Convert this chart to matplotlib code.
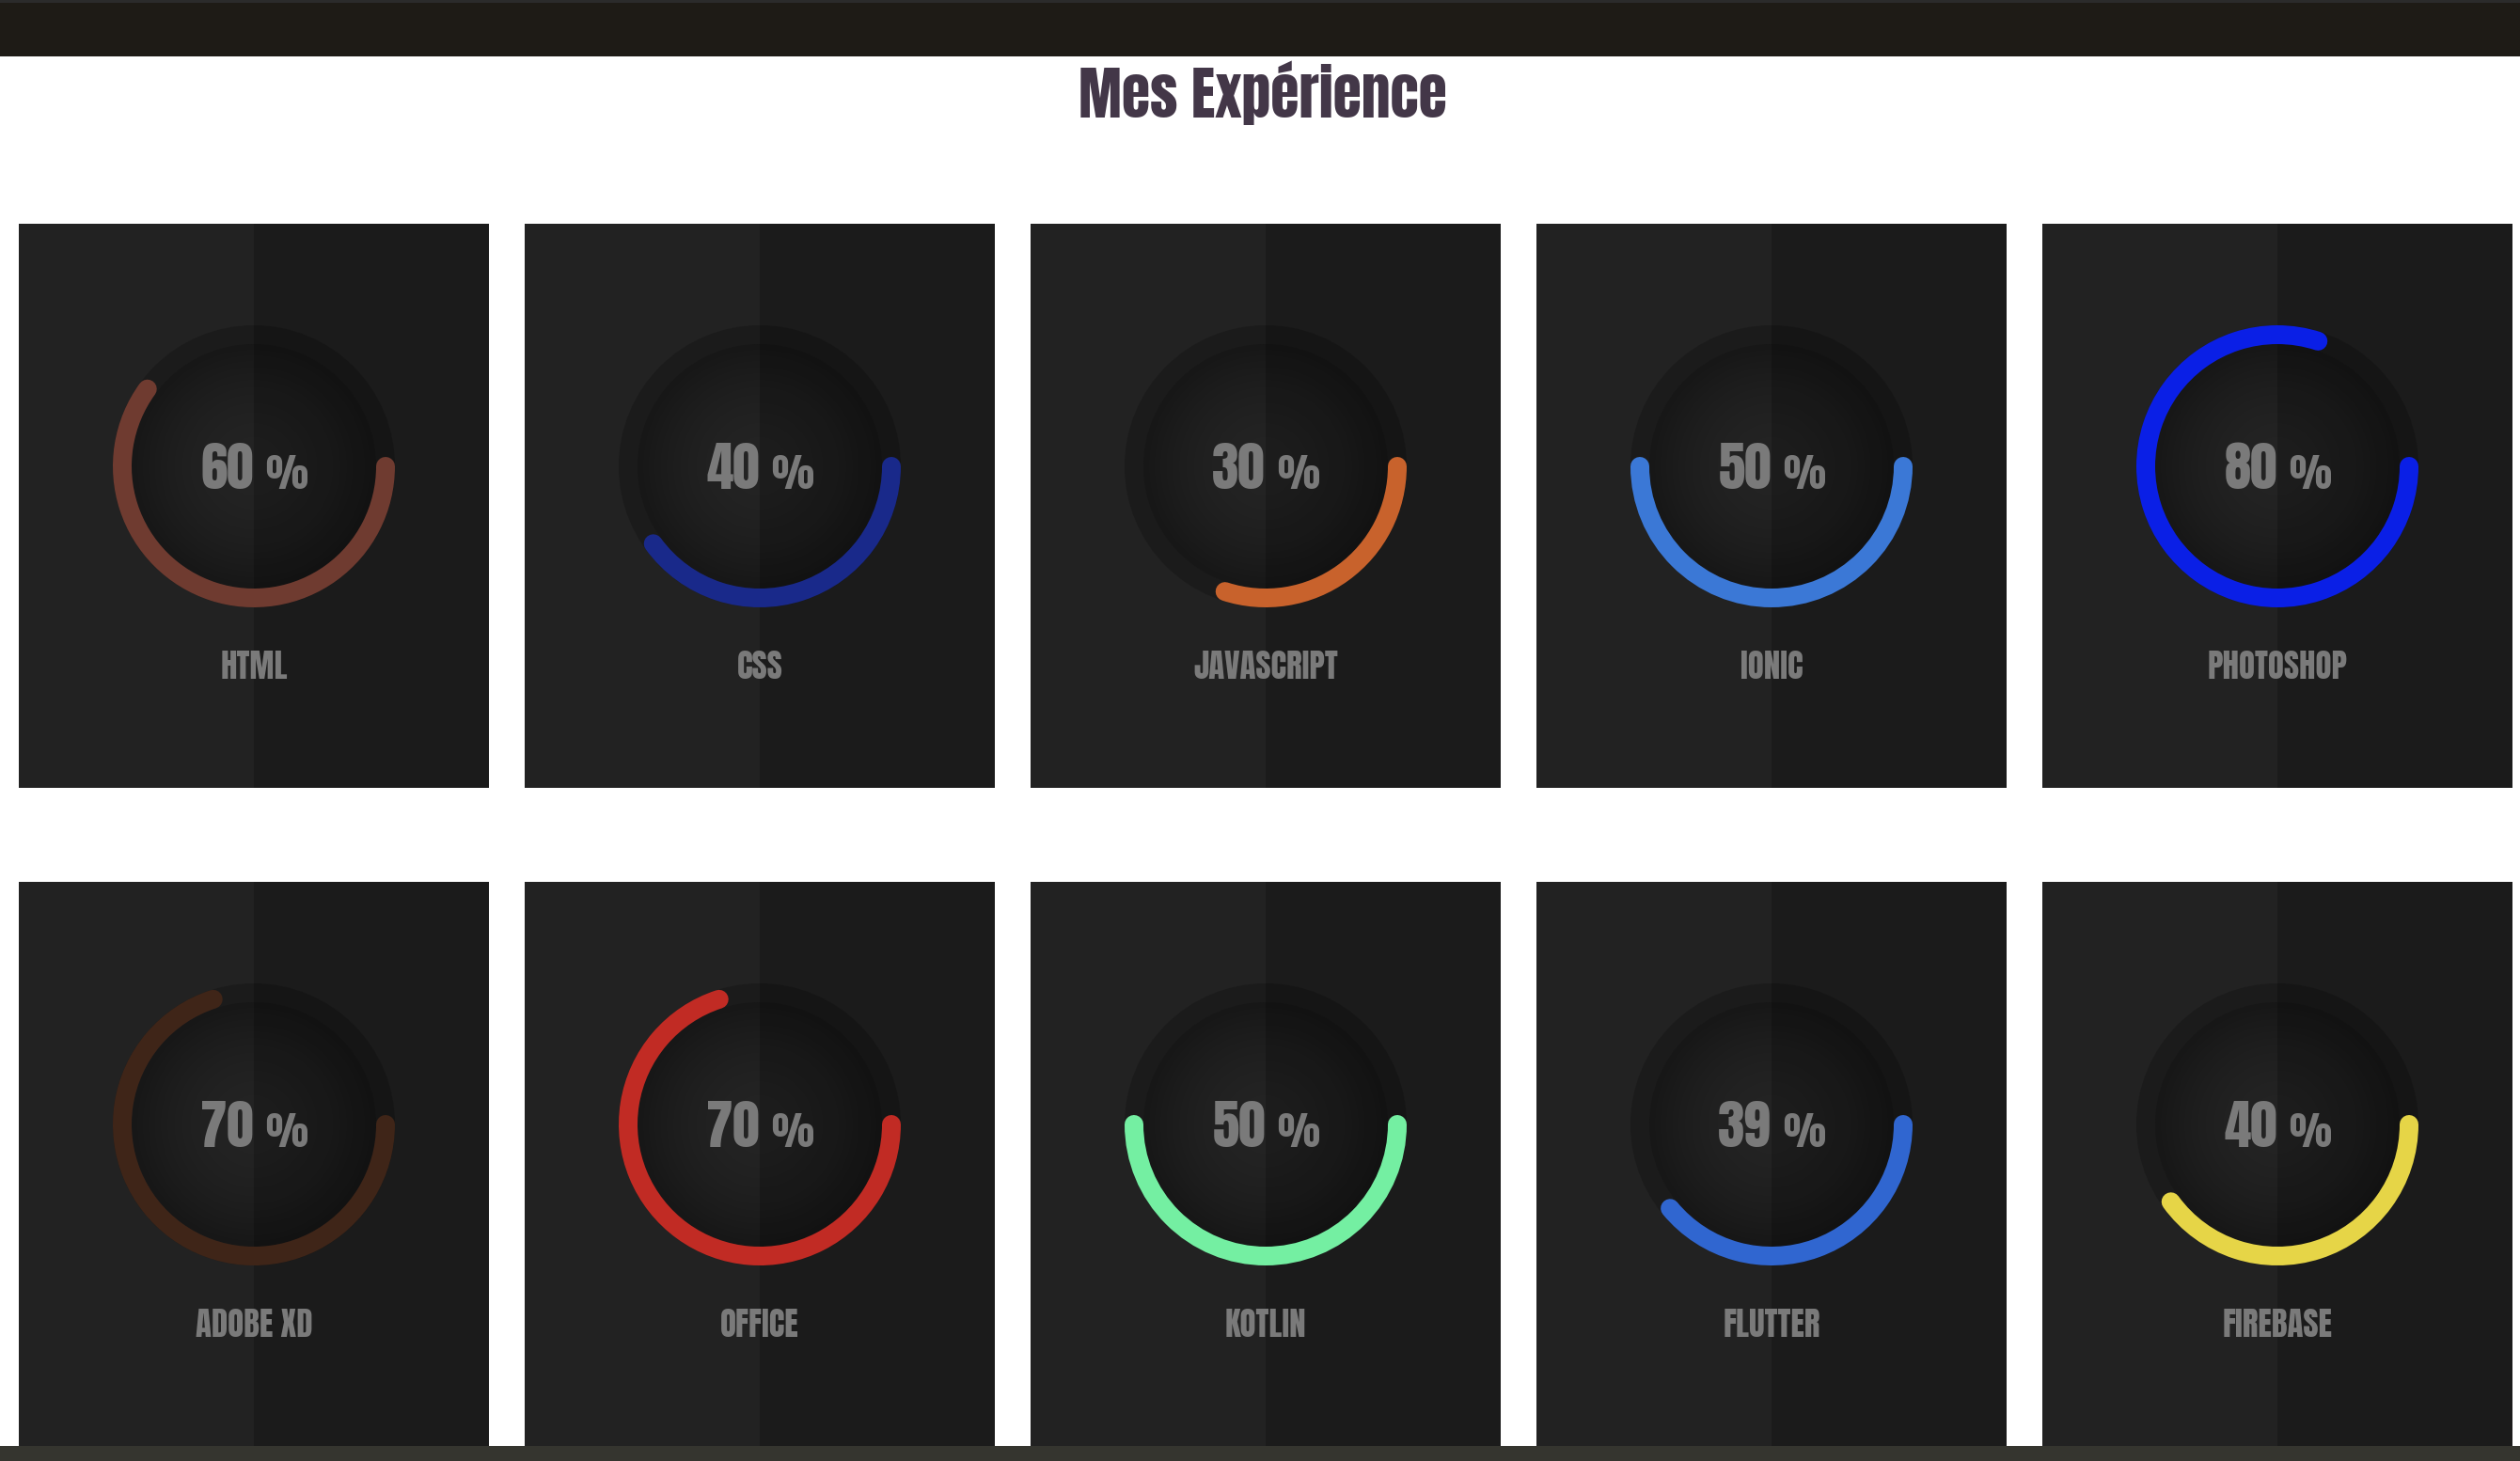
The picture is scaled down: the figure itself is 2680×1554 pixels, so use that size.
import numpy as np
import matplotlib
matplotlib.use('Agg')
import matplotlib.pyplot as plt
from matplotlib import patches, font_manager
from matplotlib.textpath import TextPath
from matplotlib.font_manager import FontProperties
from matplotlib.colors import to_rgb

title = 'Mes Expérience'
skills = ['HTML', 'CSS', 'JAVASCRIPT', 'IONIC', 'PHOTOSHOP',
          'ADOBE XD', 'OFFICE', 'KOTLIN', 'FLUTTER', 'FIREBASE']
percents = [60, 40, 30, 50, 80, 70, 70, 50, 39, 40]
ring_colors = ['#6f3b30', '#19298a', '#c8622c', '#3b78d6', '#0a1fe6',
               '#3f2518', '#c12b24', '#74efa2', '#3066d0', '#e6d547']

W, H = 2680, 1554
TEXT_GREY = '#7a7a7a'

# pick an Impact-like condensed face if there is one
installed = {f.name for f in font_manager.fontManager.ttflist}
FACE = 'DejaVu Sans'
for cand in ['Anton', 'Oswald', 'Fjalla One', 'League Gothic', 'Bebas Neue',
             'Liberation Sans Narrow']:
    if cand in installed:
        FACE = cand
        break
WEIGHT = 'normal' if FACE == 'Anton' else 'bold'
FAMILY = [FACE, 'DejaVu Sans']
fp = FontProperties(family=FACE, weight=WEIGHT)


def size_for(sample, px):
    """font size (pt) whose ink height for `sample` is `px` pixels"""
    h = TextPath((0, 0), sample, size=100, prop=fp).get_extents().height
    return px / (h / 100) * 0.72


fig = plt.figure(figsize=(W / 100, H / 100), dpi=100)
fig.patch.set_facecolor('white')
ax = fig.add_axes([0, 0, 1, 1])
ax.axis('off')

# header / footer bars
ax.add_patch(patches.Rectangle((0, 0), W, 60, color='#1e1b16', lw=0, zorder=1))
ax.add_patch(patches.Rectangle((0, 0), W, 3, color='#2b2b2b', lw=0, zorder=1))
ax.add_patch(patches.Rectangle((0, 1538), W, 16, color='#35352f', lw=0, zorder=10))

ax.text(1343, 125, title, ha='center', va='baseline', fontsize=size_for('M', 53),
        fontweight=WEIGHT, color='#433748', family=FAMILY)

card_w, card_h = 500, 600
x0, pitch = 20, 538
tops = [238, 938]

# radial shading for the inner disc
n = 200
yy, xx = np.mgrid[-1:1:n * 1j, -1:1:n * 1j]
rr = np.clip(np.hypot(xx, yy), 0, 1)
c_in, c_out = np.array(to_rgb('#242424')), np.array(to_rgb('#171717'))
grad = c_in + (c_out - c_in) * (rr ** 1.8)[..., None]

num_size = size_for('60', 50)
sign_size = size_for('%', 37)
label_size = size_for('H', 30)

pct_texts = []
for i, (name, pct, col) in enumerate(zip(skills, percents, ring_colors)):
    row, c = divmod(i, 5)
    left = x0 + c * pitch
    top = tops[row]
    cx, cy = left + card_w / 2, top + 258

    ax.add_patch(patches.Rectangle((left, top), card_w, card_h, color='#222222', lw=0, zorder=1))
    ax.add_patch(patches.Circle((cx, cy), 150, color='#1b1b1b', lw=0, zorder=1.5))
    disc = patches.Circle((cx, cy), 130, fc='none', lw=0, zorder=1.6)
    ax.add_patch(disc)
    im = ax.imshow(grad, extent=(cx - 130, cx + 130, cy + 130, cy - 130),
                   interpolation='bilinear', zorder=2)
    im.set_clip_path(disc)
    # right half of the card is a shade darker
    ax.add_patch(patches.Rectangle((cx, top), card_w / 2, card_h, color='black',
                                   alpha=0.2, lw=0, zorder=3))

    ax.add_patch(patches.Arc((cx, cy), 280, 280, theta1=0, theta2=pct * 3.6,
                             lw=14.4, color=col, capstyle='round', zorder=4))

    num = ax.text(cx, top + 282, str(pct), ha='left', va='baseline', fontsize=num_size,
                  fontweight=WEIGHT, color=TEXT_GREY, family=FAMILY, zorder=5)
    sign = ax.text(cx, top + 282, '%', ha='left', va='baseline', fontsize=sign_size,
                   fontweight=WEIGHT, color=TEXT_GREY, family=FAMILY, zorder=5)
    pct_texts.append((cx, num, sign))

    ax.text(cx, top + 484, name, ha='center', va='baseline', fontsize=label_size,
            fontweight=WEIGHT, color=TEXT_GREY, family=FAMILY, zorder=5)

ax.set_xlim(0, W)
ax.set_ylim(H, 0)
ax.set_aspect('auto')

# center "NN %" as one group
fig.canvas.draw()
r = fig.canvas.get_renderer()
gap = 12
for cx, num, sign in pct_texts:
    wn = num.get_window_extent(r).width
    ws = sign.get_window_extent(r).width
    start = cx - (wn + gap + ws) / 2
    num.set_x(start)
    sign.set_x(start + wn + gap)

fig.savefig('out.png', dpi=100)
